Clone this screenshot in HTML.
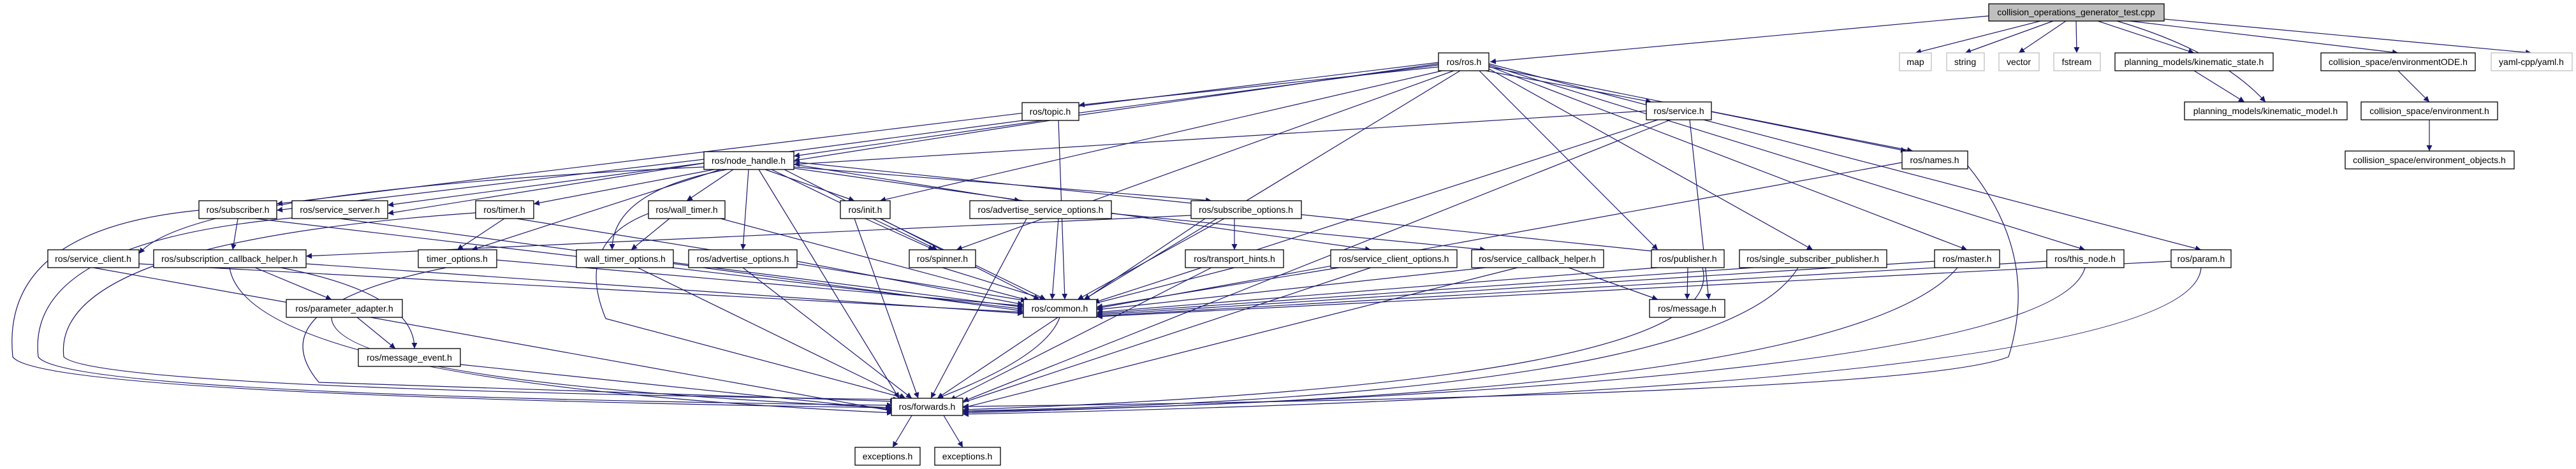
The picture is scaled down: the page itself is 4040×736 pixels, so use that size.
<!DOCTYPE html>
<html><head><meta charset="utf-8"><style>
html,body{margin:0;padding:0;background:#fff;}
svg{display:block;}
text{font-family:"Liberation Sans",sans-serif;font-size:14px;fill:#000;text-anchor:middle;}
.n{fill:#fff;stroke:#000;stroke-width:1.3;}
.g{fill:#fff;stroke:#bfbfbf;stroke-width:1.3;}
.e path{fill:none;stroke:#191970;stroke-width:1.2;marker-end:url(#a);}
</style></head><body>
<svg width="4040" height="736" viewBox="0 0 4040 736" xmlns="http://www.w3.org/2000/svg">
<defs><marker id="a" viewBox="0 0 10 10" refX="10" refY="5" markerWidth="9" markerHeight="9" orient="auto" markerUnits="userSpaceOnUse"><path d="M0,0 L10,5 L0,10 z" fill="#191970"/></marker></defs>
<g class="e">
<path d="M3119,25 L2337,97"/>
<path d="M3200,33 L3004,83"/><path d="M3220,33 L3082,83"/><path d="M3240,33 L3166,83"/><path d="M3256,33 L3257,83"/>
<path d="M3290,33 L3441,83"/><path d="M3320,33 Q3480,80 3553,160"/><path d="M3340,33 L3761,83"/><path d="M3394,30 L3970,83"/>
<path d="M3441,111 L3520,160"/><path d="M3761,111 L3810,160"/><path d="M3810,188 L3810,237"/>
<path d="M2256,100 L1245,245"/><path d="M2256,98 L434,320"/><path d="M2256,102 L608,322"/><path d="M2256,105 L1692,165"/>
<path d="M2330,111 L2590,160"/><path d="M2335,105 L2990,237"/><path d="M2262,111 L1380,315"/><path d="M2320,111 L2600,392"/>
<path d="M2335,108 L2843,392"/><path d="M2335,104 L3085,392"/><path d="M2335,102 L3270,392"/><path d="M2335,100 L3452,392"/>
<path d="M2290,111 L1700,470"/><path d="M2280,111 L1500,392"/>
<path d="M1647,189 L1245,252"/><path d="M1660,189 L1670,470"/>
<path d="M2582,174 L1245,258"/><path d="M2684,175 L3000,237"/><path d="M2650,188 L2680,470"/><path d="M2600,188 L1715,475"/><path d="M2620,188 L1510,630"/>
<path d="M1104,250 L434,330"/><path d="M1104,256 L608,335"/><path d="M1120,266 L837,320"/><path d="M1150,266 L1077,315"/>
<path d="M1200,266 L1340,315"/><path d="M1210,266 L1470,392"/><path d="M1245,258 L1600,315"/><path d="M1245,262 L1900,315"/>
<path d="M1130,266 L740,392"/><path d="M1140,266 Q960,300 960,392"/><path d="M1174,266 L1165,392"/><path d="M1245,264 L2150,392"/>
<path d="M1104,262 Q300,300 218,398"/><path d="M1245,254 L2600,395"/><path d="M1230,266 L1630,470"/><path d="M1190,266 L1410,625"/>
<path d="M373,343 L365,392"/><path d="M400,343 L1605,485"/><path d="M312,330 Q0,360 20,560 Q60,620 1398,640"/>
<path d="M533,343 L1605,488"/><path d="M458,342 Q40,380 60,560 Q100,620 1400,636"/>
<path d="M791,343 L717,392"/><path d="M810,343 L1610,472"/><path d="M746,334 Q80,380 100,560 Q150,610 1410,627"/>
<path d="M1050,343 L990,392"/><path d="M1130,343 L1615,472"/><path d="M1017,335 Q900,380 950,500 L1420,625"/>
<path d="M1357,343 L1465,392"/><path d="M1380,343 L1640,470"/><path d="M1340,343 L1440,625"/>
<path d="M1743,335 L2330,392"/><path d="M1660,343 L1650,470"/><path d="M1610,343 L1460,625"/>
<path d="M1936,343 L1936,392"/><path d="M1868,338 L480,402"/><path d="M1920,343 L1690,470"/><path d="M1890,343 L1470,625"/>
<path d="M218,414 L1605,490"/><path d="M146,420 L1400,645"/>
<path d="M400,420 L520,470"/><path d="M440,420 Q650,460 650,547"/><path d="M480,414 L1605,492"/><path d="M360,420 Q390,600 1400,648"/>
<path d="M560,498 L620,547"/><path d="M520,498 Q520,600 1400,640"/><path d="M722,572 L1400,643"/>
<path d="M779,408 L1605,480"/><path d="M700,420 Q400,480 500,600 L1405,630"/>
<path d="M1056,412 L1605,482"/><path d="M1000,420 L1420,625"/>
<path d="M1250,410 L1605,478"/><path d="M1165,420 L1430,625"/>
<path d="M1478,420 L1640,470"/>
<path d="M1936,420 L1710,478"/><path d="M1900,420 L1490,628"/>
<path d="M2100,420 L1720,482"/><path d="M2150,420 L1500,635"/>
<path d="M2460,420 L2600,470"/><path d="M2330,420 L1720,486"/><path d="M2380,420 L1510,640"/>
<path d="M2647,420 L2646,470"/><path d="M2600,420 L1720,490"/><path d="M2670,420 Q2720,600 1510,643"/>
<path d="M2750,420 L1720,492"/><path d="M2820,420 Q2700,620 1510,645"/>
<path d="M3034,410 L1720,494"/><path d="M3070,420 Q2900,620 1510,646"/>
<path d="M3210,410 L1720,496"/><path d="M3270,420 Q3220,600 1510,648"/>
<path d="M3405,410 L1720,497"/><path d="M3452,420 Q3440,610 1510,650"/>
<path d="M2983,255 L1720,484"/><path d="M3086,260 Q3200,400 3150,560 Q3000,620 1510,638"/>
<path d="M1662,498 Q1640,560 1470,625"/>
<path d="M1430,652 L1400,702"/><path d="M1480,652 L1510,702"/>
</g>
<rect x="3119" y="6" width="275" height="27" fill="#bfbfbf" stroke="#000" stroke-width="1.3"/><text x="3256" y="24">collision_operations_generator_test.cpp</text>
<rect class="n" x="2256" y="83" width="79" height="28"/><text x="2296" y="102">ros/ros.h</text>
<rect class="g" x="2979" y="83" width="50" height="28"/><text x="3004" y="102">map</text>
<rect class="g" x="3053" y="83" width="59" height="28"/><text x="3082" y="102">string</text>
<rect class="g" x="3135" y="83" width="63" height="28"/><text x="3166" y="102">vector</text>
<rect class="g" x="3221" y="83" width="73" height="28"/><text x="3257" y="102">fstream</text>
<rect class="n" x="3317" y="83" width="248" height="28"/><text x="3441" y="102">planning_models/kinematic_state.h</text>
<rect class="n" x="3640" y="83" width="242" height="28"/><text x="3761" y="102">collision_space/environmentODE.h</text>
<rect class="g" x="3907" y="83" width="127" height="28"/><text x="3970" y="102">yaml-cpp/yaml.h</text>
<rect class="n" x="1603" y="161" width="89" height="28"/><text x="1647" y="180">ros/topic.h</text>
<rect class="n" x="2582" y="160" width="102" height="28"/><text x="2633" y="179">ros/service.h</text>
<rect class="n" x="3426" y="160" width="255" height="28"/><text x="3553" y="179">planning_models/kinematic_model.h</text>
<rect class="n" x="3703" y="160" width="214" height="28"/><text x="3810" y="179">collision_space/environment.h</text>
<rect class="n" x="3678" y="237" width="265" height="28"/><text x="3810" y="256">collision_space/environment_objects.h</text>
<rect class="n" x="2983" y="237" width="103" height="28"/><text x="3034" y="256">ros/names.h</text>
<rect class="n" x="1104" y="238" width="141" height="28"/><text x="1174" y="257">ros/node_handle.h</text>
<rect class="n" x="312" y="315" width="122" height="28"/><text x="373" y="334">ros/subscriber.h</text>
<rect class="n" x="458" y="315" width="150" height="28"/><text x="533" y="334">ros/service_server.h</text>
<rect class="n" x="746" y="315" width="91" height="28"/><text x="791" y="334">ros/timer.h</text>
<rect class="n" x="1017" y="315" width="120" height="28"/><text x="1077" y="334">ros/wall_timer.h</text>
<rect class="n" x="1318" y="315" width="78" height="28"/><text x="1357" y="334">ros/init.h</text>
<rect class="n" x="1521" y="315" width="222" height="28"/><text x="1632" y="334">ros/advertise_service_options.h</text>
<rect class="n" x="1868" y="315" width="173" height="28"/><text x="1954" y="334">ros/subscribe_options.h</text>
<rect class="n" x="75" y="392" width="143" height="28"/><text x="146" y="411">ros/service_client.h</text>
<rect class="n" x="241" y="392" width="239" height="28"/><text x="360" y="411">ros/subscription_callback_helper.h</text>
<rect class="n" x="656" y="392" width="123" height="28"/><text x="717" y="411">timer_options.h</text>
<rect class="n" x="904" y="392" width="152" height="28"/><text x="980" y="411">wall_timer_options.h</text>
<rect class="n" x="1080" y="392" width="170" height="28"/><text x="1165" y="411">ros/advertise_options.h</text>
<rect class="n" x="1426" y="392" width="104" height="28"/><text x="1478" y="411">ros/spinner.h</text>
<rect class="n" x="1859" y="392" width="154" height="28"/><text x="1936" y="411">ros/transport_hints.h</text>
<rect class="n" x="2087" y="392" width="198" height="28"/><text x="2186" y="411">ros/service_client_options.h</text>
<rect class="n" x="2308" y="392" width="207" height="28"/><text x="2411" y="411">ros/service_callback_helper.h</text>
<rect class="n" x="2590" y="392" width="114" height="28"/><text x="2647" y="411">ros/publisher.h</text>
<rect class="n" x="2728" y="392" width="231" height="28"/><text x="2843" y="411">ros/single_subscriber_publisher.h</text>
<rect class="n" x="3034" y="392" width="102" height="28"/><text x="3085" y="411">ros/master.h</text>
<rect class="n" x="3210" y="392" width="121" height="28"/><text x="3270" y="411">ros/this_node.h</text>
<rect class="n" x="3405" y="392" width="94" height="28"/><text x="3452" y="411">ros/param.h</text>
<rect class="n" x="449" y="470" width="182" height="28"/><text x="540" y="489">ros/parameter_adapter.h</text>
<rect class="n" x="1605" y="470" width="115" height="28"/><text x="1662" y="489">ros/common.h</text>
<rect class="n" x="2587" y="470" width="118" height="28"/><text x="2646" y="489">ros/message.h</text>
<rect class="n" x="562" y="547" width="160" height="28"/><text x="642" y="566">ros/message_event.h</text>
<rect class="n" x="1398" y="625" width="112" height="27"/><text x="1454" y="643">ros/forwards.h</text>
<rect class="n" x="1341" y="702" width="102" height="28"/><text x="1392" y="721">exceptions.h</text>
<rect class="n" x="1466" y="702" width="103" height="28"/><text x="1517" y="721">exceptions.h</text>
</svg>
</body></html>
